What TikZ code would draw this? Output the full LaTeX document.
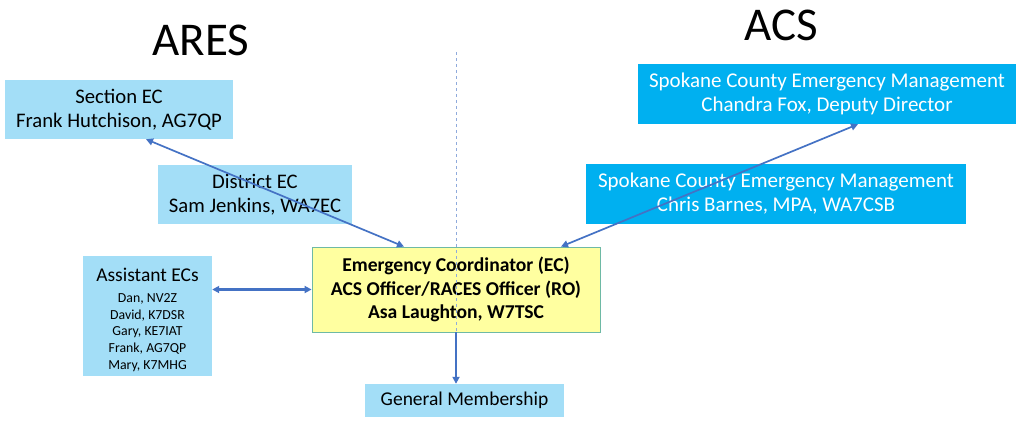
\documentclass[tikz,border=0pt]{standalone}
\usepackage{fontspec}
\setmainfont{Carlito}
\usetikzlibrary{arrows.meta}
\definecolor{aresblue}{RGB}{163,222,247}
\definecolor{acsblue}{RGB}{0,176,240}
\definecolor{ecyellow}{RGB}{255,255,160}
\definecolor{ecedge}{RGB}{110,185,165}
\definecolor{linkblue}{RGB}{68,114,196}
\definecolor{divgrey}{RGB}{143,170,220}
\begin{document}
\begin{tikzpicture}[x=1pt,y=-1pt,
  >={Triangle[length=7pt,width=7pt]},
  title/.style={anchor=base,inner sep=0pt,font=\fontsize{47}{56}\selectfont},
  aresbox/.style={fill=aresblue,align=center,inner sep=0pt,font=\fontsize{20.7}{24}\selectfont},
  acsbox/.style={fill=acsblue,text=white,align=center,inner sep=0pt,font=\fontsize{21}{24}\selectfont},
  link/.style={draw=linkblue,line width=1.7pt}]
\useasboundingbox (0,0) rectangle (1024,424);
\node at (201,55) [title] (ares) {ARES};
\node at (781,40) [title] (acs) {ACS};
\node at (119,109.5) [aresbox,minimum width=228pt,minimum height=59pt] (sec) {Section EC\\Frank Hutchison, AG7QP};
\node at (255,194.5) [aresbox,minimum width=194pt,minimum height=59pt] (dist) {District EC\\Sam Jenkins, WA7EC};
\node at (147.5,316) [aresbox,minimum width=129pt,minimum height=120pt,font=\fontsize{13.8}{16.6}\selectfont] (asst) {\begin{tabular}{@{}c@{}}\rule{0pt}{23pt}{\fontsize{19.5}{22}\selectfont Assistant ECs}\\[5pt]Dan, NV2Z\\David, K7DSR\\Gary, KE7IAT\\Frank, AG7QP\\Mary, K7MHG\end{tabular}};
\node at (827,94) [acsbox,minimum width=378pt,minimum height=60pt] (scem1) {Spokane County Emergency Management\\Chandra Fox, Deputy Director};
\node at (776,194) [acsbox,minimum width=380pt,minimum height=60pt] (scem2) {Spokane County Emergency Management\\Chris Barnes, MPA, WA7CSB};
\node at (456,289.5) [fill=ecyellow,draw=ecedge,line width=0.8pt,align=center,inner sep=0pt,minimum width=288pt,minimum height=85pt,font=\fontsize{19.6}{23.5}\selectfont\bfseries] (ec) {Emergency Coordinator (EC)\\ACS Officer/RACES Officer (RO)\\Asa Laughton, W7TSC};
\node at (464.5,400.5) [aresbox,minimum width=199pt,minimum height=33pt,font=\fontsize{19.5}{24}\selectfont] (gen) {General Membership};
\coordinate (divtop) at (456,52);
\draw[divgrey,dashed,line width=0.6pt] (divtop) -- (ec.south);
\draw[link,<->] ([xshift=27pt]sec.south) -- ([xshift=-52pt]ec.north);
\draw[link,<->] ([xshift=31pt]scem1.south) -- ([xshift=105pt]ec.north);
\draw[link,<->,line width=2.6pt] (asst.east |- ec.west) -- (ec.west);
\draw[link,->] (ec.south) -- (ec.south |- gen.north);
\end{tikzpicture}
\end{document}
